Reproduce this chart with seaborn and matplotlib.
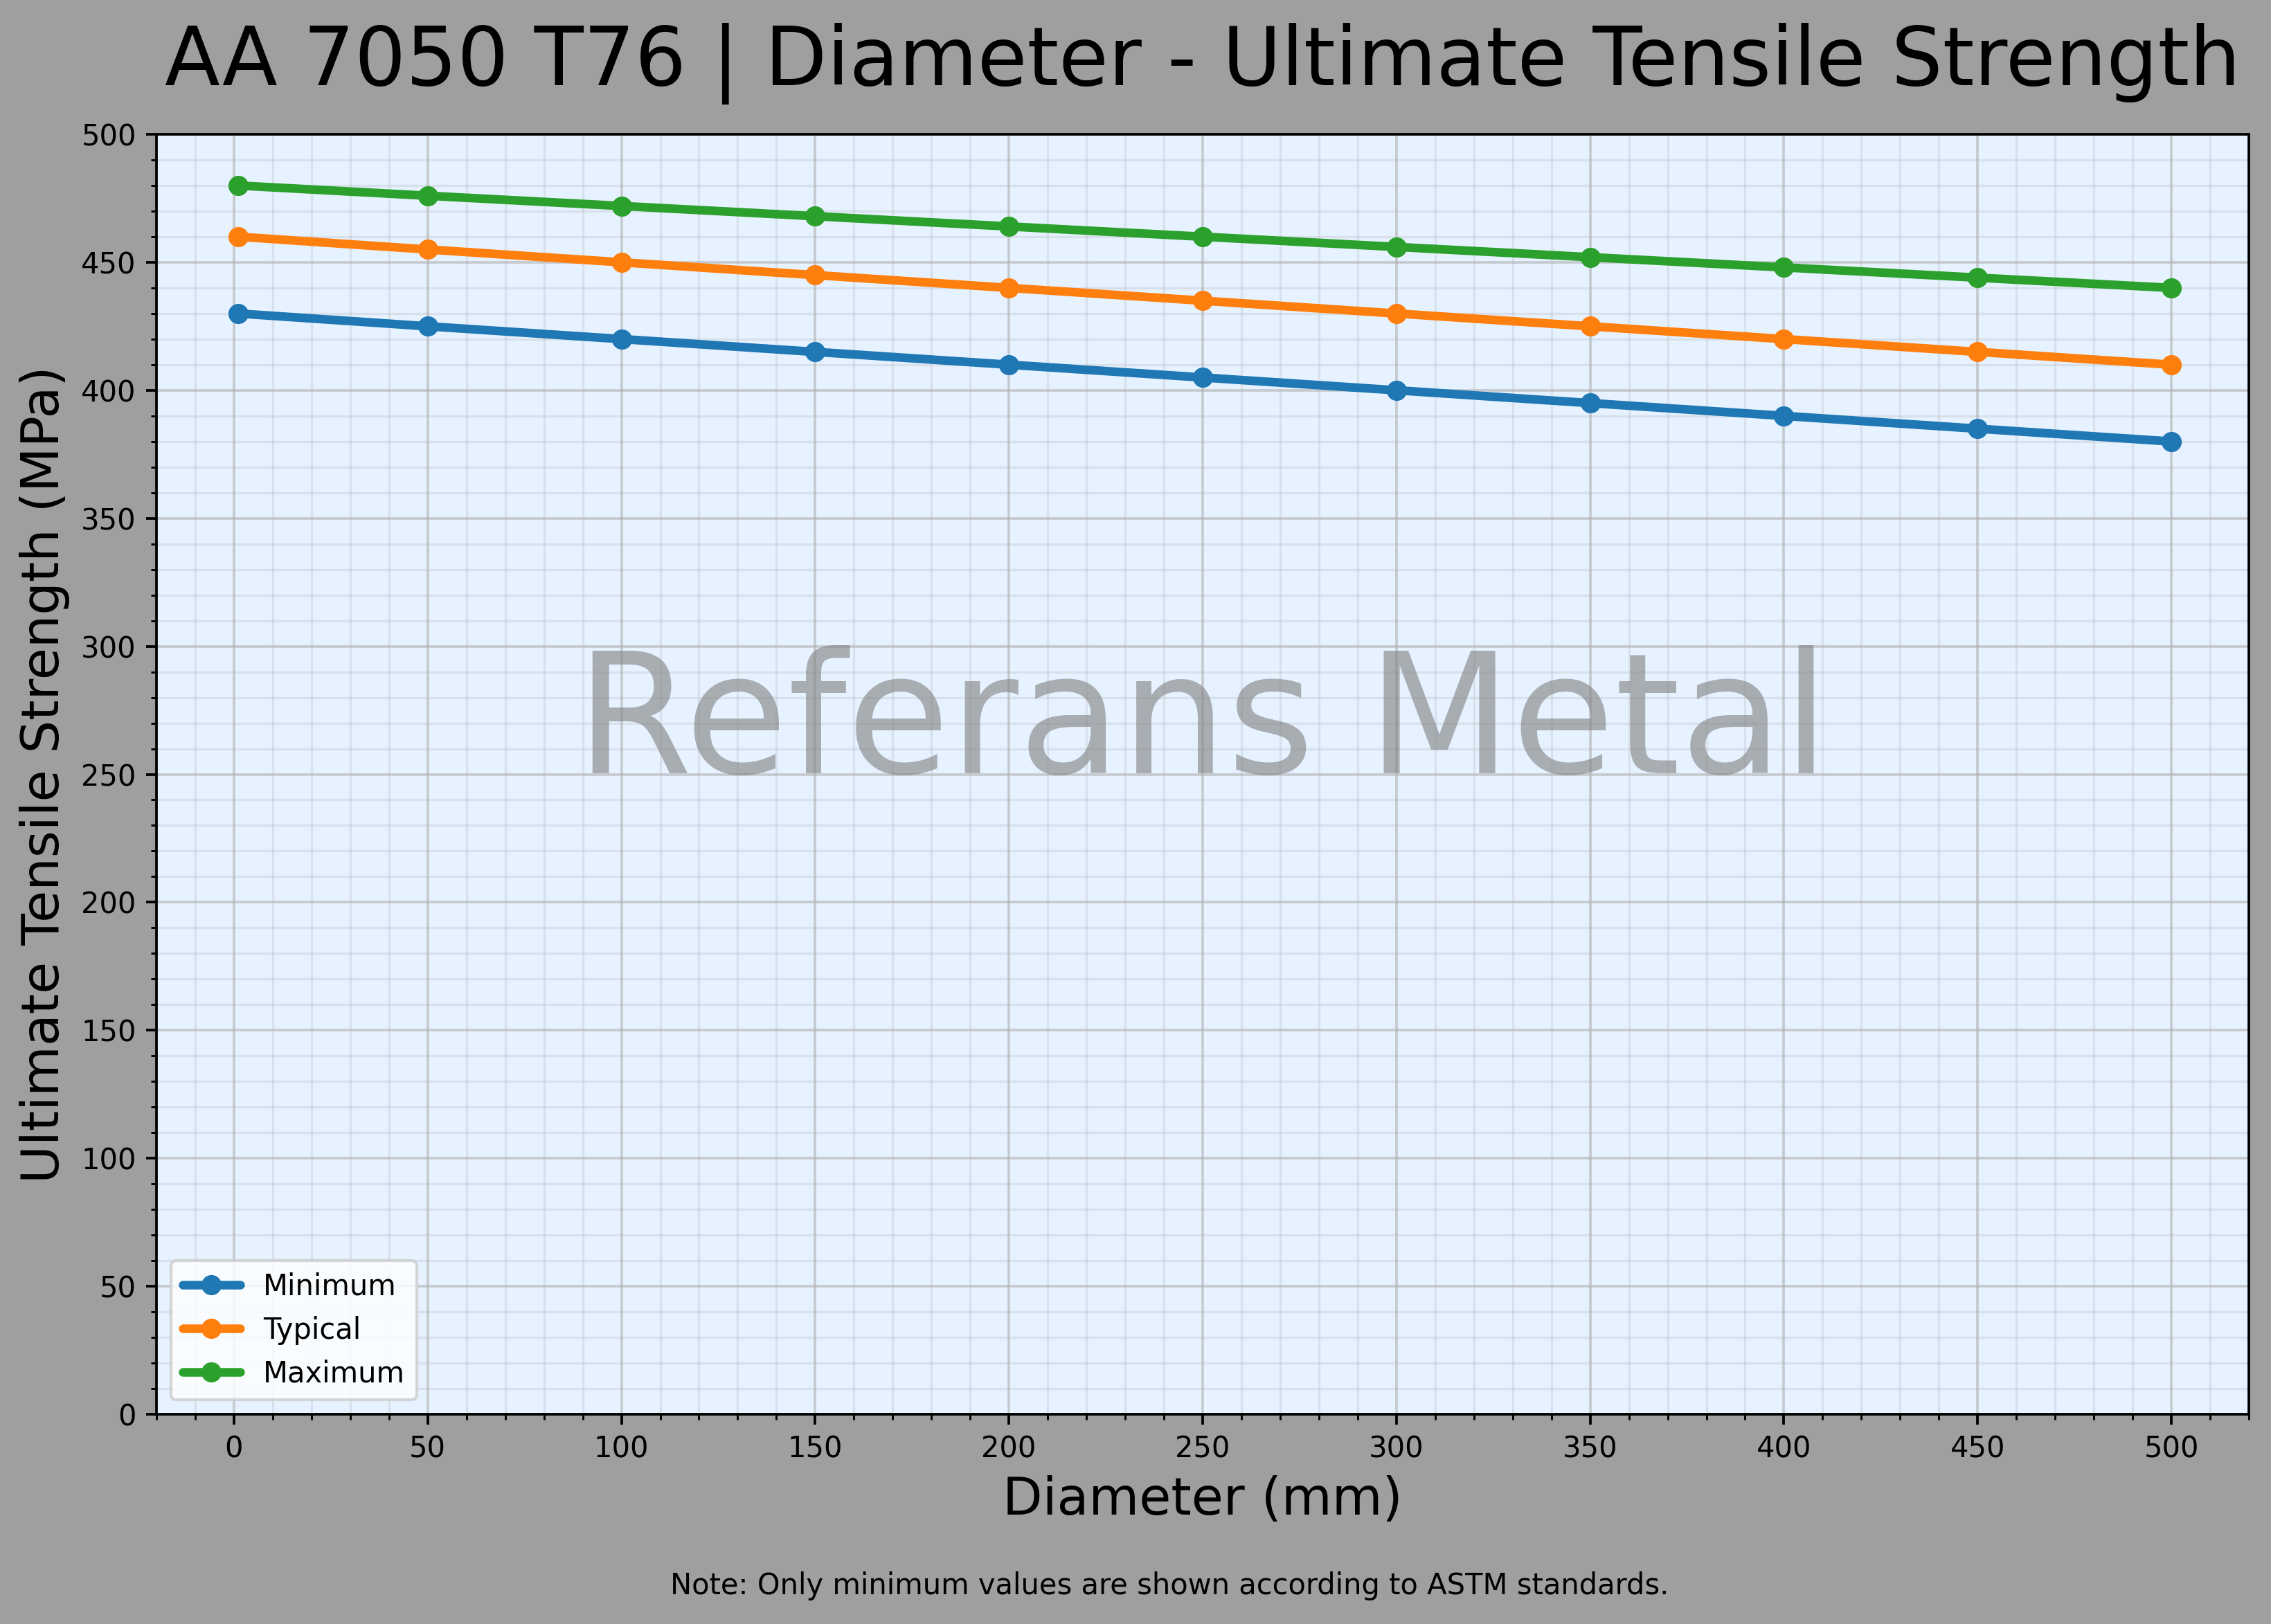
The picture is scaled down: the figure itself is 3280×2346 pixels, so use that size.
import numpy as np
import pandas as pd
import matplotlib
matplotlib.use("Agg")
import matplotlib.pyplot as plt
import seaborn as sns
from matplotlib.ticker import MultipleLocator

diameters = [1, 50, 100, 150, 200, 250, 300, 350, 400, 450, 500]
minimum = [430, 425, 420, 415, 410, 405, 400, 395, 390, 385, 380]
typical = [460, 455, 450, 445, 440, 435, 430, 425, 420, 415, 410]
maximum = [480, 476, 472, 468, 464, 460, 456, 452, 448, 444, 440]
series_names = ["Minimum", "Typical", "Maximum"]
series_colors = ["#1f77b4", "#ff7f0e", "#2ca02c"]

sns.set_style("ticks")
plt.rcParams['font.family'] = ['DejaVu Sans']
plt.rcParams['text.color'] = 'black'
plt.rcParams['axes.labelcolor'] = 'black'
plt.rcParams['xtick.color'] = 'black'
plt.rcParams['ytick.color'] = 'black'

fig = plt.figure(figsize=(3280/300, 2346/300), dpi=300, facecolor="#9f9f9f")
ax = fig.add_axes([226/3280, 1-2043/2346, (3248-226)/3280, (2043-194)/2346])
ax.set_facecolor("#e6f2ff")

for name, vals, col in zip(series_names, [minimum, typical, maximum], series_colors):
    df = pd.DataFrame({"Diameter": diameters, "UTS": vals})
    sns.lineplot(data=df, x="Diameter", y="UTS", ax=ax, color=col, linewidth=3,
                 marker="o", markersize=7, markeredgewidth=0, label=name, zorder=3)

ax.set_ylim(0, 500)
ax.set_xlim(-20, 520)
ax.xaxis.set_major_locator(MultipleLocator(50))
ax.xaxis.set_minor_locator(MultipleLocator(10))
ax.yaxis.set_major_locator(MultipleLocator(50))
ax.yaxis.set_minor_locator(MultipleLocator(10))
ax.grid(which="major", color="#b0b0b0", alpha=0.6, linewidth=0.9)
ax.grid(which="minor", color="#b0b0b0", alpha=0.25, linewidth=0.8)
ax.set_axisbelow(True)
for s in ax.spines.values():
    s.set_color("black")
    s.set_linewidth(0.9)
ax.tick_params(which="major", length=3.5, width=0.9, labelsize=10, colors="black")
ax.tick_params(which="minor", length=2, width=0.7, colors="black")

ax.set_title("AA 7050 T76 | Diameter - Ultimate Tensile Strength", fontsize=28, pad=17,
             color="black")
ax.set_xlabel("Diameter (mm)", fontsize=18, color="black")
ax.set_ylabel("Ultimate Tensile Strength (MPa)", fontsize=18, color="black")

ax.text(0.5, 0.537, "Referans Metal", transform=ax.transAxes, fontsize=58,
        color="gray", alpha=0.6, ha="center", va="center", zorder=2)

leg = ax.legend(loc="lower left", fontsize=10, frameon=True)
leg.get_frame().set_facecolor("white")
for t in leg.get_texts():
    t.set_color("black")

fig.text(1689/3280, 55/2346, "Note: Only minimum values are shown according to ASTM standards.",
         ha="center", va="center", fontsize=10, color="black")

fig.savefig("out.png", dpi=300, facecolor=fig.get_facecolor())
